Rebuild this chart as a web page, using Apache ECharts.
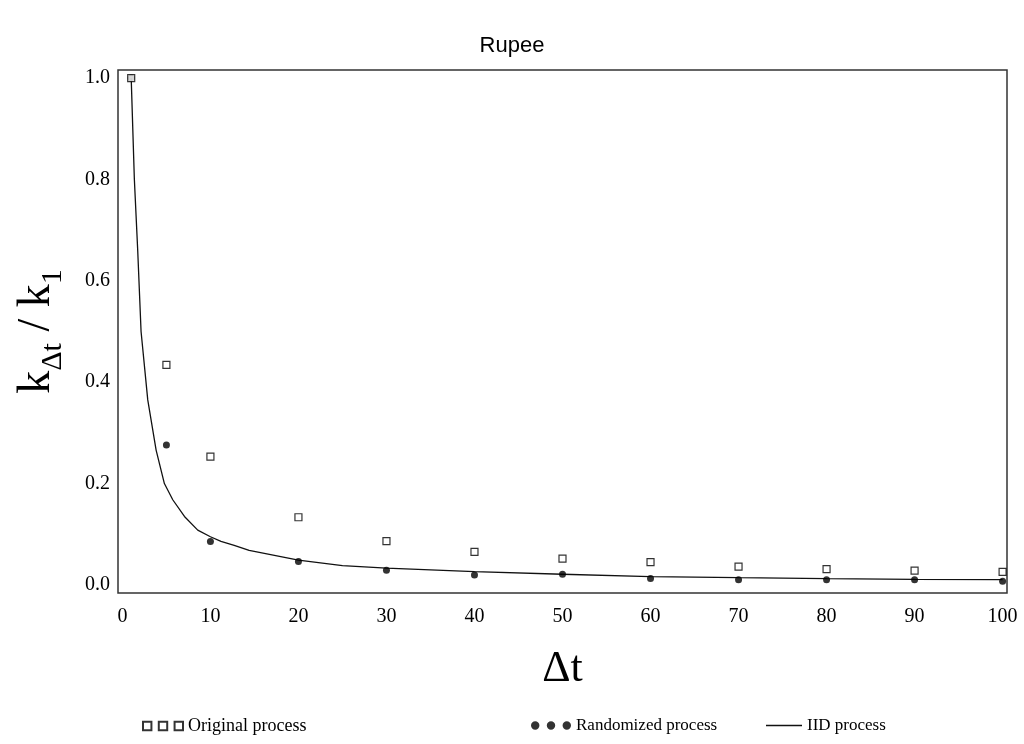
<!DOCTYPE html>
<html>
<head>
<meta charset="utf-8">
<script src="https://cdn.jsdelivr.net/npm/echarts@6/dist/echarts.min.js"></script>
<style>html,body{margin:0;padding:0;background:#fff;}#chart{width:1024px;height:744px;}</style>
</head>
<body>
<div id="chart"></div>
<script>
// ---- data ----
var titleText = 'Rupee';
var lags = [1, 5, 10, 20, 30, 40, 50, 60, 70, 80, 90, 100];
var originalValues = [1.0, 0.434, 0.253, 0.1335, 0.0862, 0.0651, 0.0519, 0.0448, 0.0361, 0.031, 0.0282, 0.0256];
var randomizedValues = [1.0, 0.276, 0.0855, 0.046, 0.0290, 0.0197, 0.0211, 0.0125, 0.0099, 0.0099, 0.0099, 0.0072];
var iidLags = [1, 1.36, 1.74, 2.12, 2.88, 3.83, 4.77, 5.72, 7.05, 8.56, 10, 11.2, 12.7, 14.4, 20, 25, 30, 40, 50, 60, 70, 80, 90, 100];
var iidValues = [1.0, 0.80, 0.66, 0.50, 0.365, 0.266, 0.20, 0.168, 0.135, 0.108, 0.095, 0.086, 0.078, 0.068, 0.049, 0.038, 0.033, 0.026, 0.021, 0.0165, 0.0144, 0.0125, 0.011, 0.0105];
var seriesNames = ['Original process', 'Randomized process', 'IID process'];

function zip(xs, ys) { return xs.map(function (x, i) { return [x, ys[i]]; }); }

var serif = '"Liberation Serif", "DejaVu Serif", serif';
var chart = echarts.init(document.getElementById('chart'));
var option = {
  backgroundColor: '#fff',
  animation: false,
  title: {
    text: titleText, left: 'center', top: 30,
    textStyle: { fontFamily: '"Liberation Sans", Arial, sans-serif', fontSize: 22, fontWeight: 'normal', color: '#000' }
  },
  grid: { left: 118, right: 17, top: 70, bottom: 151, show: true, borderColor: '#333', borderWidth: 1.5, backgroundColor: 'transparent' },
  xAxis: {
    type: 'value', min: -0.5, max: 100.5, interval: 0.5,
    axisLine: { show: false }, axisTick: { show: false }, splitLine: { show: false },
    axisLabel: {
      margin: 14, fontFamily: serif, fontSize: 20, color: '#000', showMinLabel: true, showMaxLabel: true,
      formatter: function (v) { var r = Math.round(v); return (Math.abs(v - r) < 1e-6 && r % 10 === 0) ? String(r) : ''; }
    },
    name: '\u0394t', nameLocation: 'middle', nameGap: 54,
    nameTextStyle: { fontFamily: serif, fontSize: 44, color: '#000', verticalAlign: 'top' }
  },
  yAxis: {
    type: 'value', min: -0.016, max: 1.016, interval: 0.008,
    axisLine: { show: false }, axisTick: { show: false }, splitLine: { show: false },
    axisLabel: {
      margin: 8, fontFamily: serif, fontSize: 20, color: '#000',
      formatter: function (v) { var r = Math.round(v * 5); return Math.abs(v * 5 - r) < 1e-6 ? (r / 5).toFixed(1) : ''; }
    },
    name: '{k|k}{s|\u0394t}{k| / k}{s|1}', nameLocation: 'middle', nameRotate: 90, nameGap: 58,
    nameTextStyle: {
      rich: {
        k: { fontFamily: serif, fontSize: 46, color: '#000', lineHeight: 56, verticalAlign: 'bottom' },
        s: { fontFamily: serif, fontSize: 30, color: '#000', lineHeight: 56, verticalAlign: 'bottom', padding: [0, 0, -8, 0] }
      }
    }
  },
  legend: [
    {
      left: 137, top: 712, itemWidth: 40, itemHeight: 9, itemGap: 5,
      data: [{ name: seriesNames[0], icon: 'path://M0,0h8v8h-8z M15,0h8v8h-8z M30,0h8v8h-8z' }],
      textStyle: { fontFamily: serif, fontSize: 18, color: '#000' }
    },
    {
      left: 526, top: 712, itemWidth: 40, itemHeight: 9, itemGap: 5,
      data: [{ name: seriesNames[1], icon: 'path://M0,4a4,4 0 1,0 8,0a4,4 0 1,0 -8,0z M15,4a4,4 0 1,0 8,0a4,4 0 1,0 -8,0z M30,4a4,4 0 1,0 8,0a4,4 0 1,0 -8,0z' }],
      textStyle: { fontFamily: serif, fontSize: 17, color: '#000' }
    },
    {
      left: 761, top: 712, itemWidth: 36, itemHeight: 2, itemGap: 5,
      data: [{ name: seriesNames[2], icon: 'path://M0,0h36v1.4h-36z' }],
      textStyle: { fontFamily: serif, fontSize: 17, color: '#000' }
    }
  ],
  series: [
    {
      name: seriesNames[2], type: 'line', data: zip(iidLags, iidValues),
      symbol: 'none', smooth: false,
      lineStyle: { color: '#111', width: 1.3 }, itemStyle: { color: '#111' }, z: 2
    },
    {
      name: seriesNames[1], type: 'scatter', data: zip(lags, randomizedValues),
      symbol: 'circle', symbolSize: 7, itemStyle: { color: '#000' }, z: 3
    },
    {
      name: seriesNames[0], type: 'scatter', data: zip(lags, originalValues),
      symbol: 'rect', symbolSize: 7, itemStyle: { color: '#fff', borderColor: '#000', borderWidth: 1.2 }, z: 4
    }
  ]
};
chart.setOption(option);
</script>
</body>
</html>
